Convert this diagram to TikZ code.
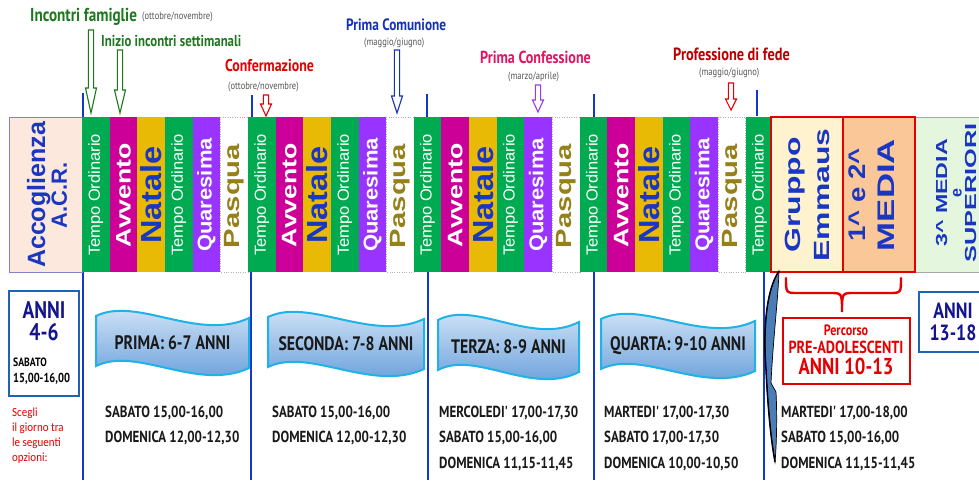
\documentclass[tikz,border=0pt]{standalone}
\usepackage{fontspec}
\setmainfont{Liberation Sans}
\newfontfamily\comic[FakeStretch=0.81]{PT Sans}
\newfontfamily\calib[FakeStretch=0.88]{Carlito}
\newfontfamily\arialf{Liberation Sans}
\definecolor{togreen}{RGB}{0,170,80}
\definecolor{avv}{RGB}{204,0,153}
\definecolor{nat}{RGB}{232,185,5}
\definecolor{qua}{RGB}{153,51,255}
\definecolor{pasq}{RGB}{150,128,25}
\definecolor{nblue}{RGB}{25,55,195}
\definecolor{lblue}{RGB}{20,55,200}
\definecolor{acc}{RGB}{252,232,220}
\definecolor{emm}{RGB}{255,242,206}
\definecolor{med}{RGB}{250,200,152}
\definecolor{supc}{RGB}{228,246,222}
\definecolor{hgreen}{RGB}{30,120,30}
\definecolor{hred}{RGB}{228,0,0}
\definecolor{hpink}{RGB}{228,20,100}
\definecolor{hdred}{RGB}{185,0,0}
\definecolor{hblue}{RGB}{20,50,180}
\definecolor{hpurple}{RGB}{150,60,240}
\definecolor{navy}{RGB}{20,20,140}
\definecolor{banfillA}{RGB}{222,236,250}
\definecolor{banfillB}{RGB}{90,150,215}
\definecolor{bancyan}{RGB}{30,178,230}
\definecolor{boxblue}{RGB}{30,100,180}
\definecolor{steel}{RGB}{75,125,185}
\definecolor{gtext}{RGB}{85,85,85}
\newcommand\harrow[5]{%
  \draw[harr, draw=#5] (#1-2.6,#2) -- (#1+2.6,#2) -- (#1+2.6,#3) -- (#1+5.5,#3) -- (#1,#4) -- (#1-5.5,#3) -- (#1-2.6,#3) -- cycle;}
\newcommand\colm[4]{%
  \fill[#3] (#2,117) rectangle ++(27.65,155);
  \node[coltext] (#1) at (#2+13.8,195) {#4};}
\newcommand\tTO{\arialf\fontsize{16}{16}\selectfont\color{white}\scalebox{1.03}[1]{Tempo Ordinario}}
\newcommand\tAvv{\bfseries\fontsize{21}{21}\selectfont\color{white}\scalebox{1.27}[1]{Avvento}}
\newcommand\tNat{\bfseries\fontsize{29}{29}\selectfont\color{nblue}\scalebox{1.12}[1]{Natale}}
\newcommand\tQua{\bfseries\fontsize{20}{20}\selectfont\color{white}\scalebox{1.1}[1]{Quaresima}}
\newcommand\tPas{\bfseries\fontsize{22}{22}\selectfont\color{pasq}\scalebox{1.33}[1]{Pasqua}}
\newcommand\banner[5]{%
  \begin{scope}[shift={(#2,#4)}, xscale=#3/150]
    \path[top color=banfillA, bottom color=banfillB, draw=bancyan, line width=2pt]
      (0,0) .. controls (40,-20) and (100,26) .. (150,2) -- (150,52)
      .. controls (100,76) and (40,30) .. (0,50) -- cycle;
    \node[bantext] (#1) at (75,27) {#5};
  \end{scope}}
\begin{document}
\begin{tikzpicture}[x=1pt,y=-1pt,
  hd/.style={anchor=base west, inner sep=0},
  sched/.style={anchor=base west, inner sep=0, font=\comic\bfseries\fontsize{16}{16}\selectfont, text=black!90},
  coltext/.style={rotate=90, inner sep=0},
  bantext/.style={inner sep=0, font=\comic\bfseries\fontsize{19.5}{19.5}\selectfont, text=black!90},
  vline/.style={lblue, line width=2.6pt},
  harr/.style={fill=white, line width=1.1pt, line join=miter},
  small/.style={anchor=base west, inner sep=0, font=\comic\fontsize{10.5}{10.5}\selectfont, text=gtext},
]
\useasboundingbox (0,0) rectangle (979,480);
\fill[white] (0,0) rectangle (979,480);

% ---------- headings ----------
\node[hd, font=\comic\bfseries\fontsize{18.7}{18.7}\selectfont, text=hgreen] (h1) at (30,21) {Incontri famiglie};
\node[small] (h1s) at (142,19) {(ottobre/novembre)};
\node[hd, font=\comic\bfseries\fontsize{15.8}{15.8}\selectfont, text=hgreen] (h2) at (101,46) {Inizio incontri settimanali};
\node[hd, font=\comic\bfseries\fontsize{17.1}{17.1}\selectfont, text=hred] (h3) at (225,71) {Confermazione};
\node[small] (h3s) at (228,89) {(ottobre/novembre)};
\node[hd, font=\comic\bfseries\fontsize{16.4}{16.4}\selectfont, text=hblue] (h4) at (346,30) {Prima Comunione};
\node[small] (h4s) at (364,45) {(maggio/giugno)};
\node[hd, font=\comic\bfseries\fontsize{17.4}{17.4}\selectfont, text=hpink] (h5) at (480,63) {Prima Confessione};
\node[small] (h5s) at (508,79) {(marzo/aprile)};
\node[hd, font=\comic\bfseries\fontsize{17.7}{17.7}\selectfont, text=hdred] (h6) at (673,60) {Professione di fede};
\node[small] (h6s) at (699,75) {(maggio/giugno)};

% ---------- hollow arrows ----------
\harrow{91}{30}{88}{113}{hgreen}
\harrow{120}{50}{90}{113}{hgreen}
\harrow{266}{95}{104}{116}{hred}
\harrow{397}{50}{96}{113}{hblue}
\harrow{538}{85}{100}{112}{hpurple}
\harrow{731}{83}{99}{110}{hred}

% ---------- blue year dividers ----------
\draw[vline] (83,93) -- (83,117);
\draw[vline] (252,95) -- (252,117);
\draw[vline] (427,94) -- (427,117);
\draw[vline] (594,94) -- (594,117);
\draw[vline] (757,90) -- (757,116);
\draw[vline] (83,272) -- (83,480);
\draw[vline] (251,272) -- (251,480);
\draw[vline] (428,272) -- (428,480);
\draw[vline] (594,272) -- (594,480);
\draw[vline] (764,272) -- (764,480);

% ---------- band ----------
\draw[fill=acc, draw=gray!60!blue!70] (9,117) rectangle (82,272);
\node[coltext, align=center, text=nblue, font=\bfseries] (acr) at (47,195)
  {{\fontsize{25}{27}\selectfont Accoglienza}\\{\fontsize{22}{24}\selectfont A.C.R.}};
\foreach \c in {0,1,2,3}{
  \pgfmathsetmacro{\x}{82+\c*165.9}
  \colm{to1-\c}{\x}{togreen}{\tTO}
  \colm{av-\c}{\x+27.65}{avv}{\tAvv}
  \colm{na-\c}{\x+55.3}{nat}{\tNat}
  \colm{to2-\c}{\x+82.95}{togreen}{\tTO}
  \colm{qu-\c}{\x+110.6}{qua}{\tQua}
  \draw[dotted, gray!60] (\x+138.25,117) rectangle ++(27.65,155);
  \node[coltext] (pa-\c) at (\x+152.05,196) {\tPas};
}
\colm{to-last}{745.6}{togreen}{\tTO}
\fill[emm] (771,117) rectangle (843,272);
\fill[med] (843,117) rectangle (915,272);
\draw[hred, line width=1.2pt] (843,117) -- (843,272);
\draw[hred, line width=2pt] (771,117) rectangle (915,272);
\fill[supc] (916,117) rectangle (985,272);
\draw[gray!70, line width=0.8pt] (916,117) -- (985,117) (916,272) -- (985,272);
\node[coltext, align=center, text=nblue, font=\bfseries\fontsize{22}{29}\selectfont] (emmaus) at (807,195)
  {\scalebox{1.45}[1]{Gruppo}\\\scalebox{1.45}[1]{Emmaus}};
\node[coltext, align=center, text=nblue, font=\bfseries\fontsize{24}{29}\selectfont] (media) at (872,195)
  {\scalebox{1.15}[1]{1\textasciicircum{} e 2\textasciicircum}\\\scalebox{1.45}[1]{MEDIA}};
\node[coltext, align=center, text=nblue, font=\bfseries\fontsize{16}{14.5}\selectfont] (sup) at (956,193)
  {\scalebox{1.45}[1]{3\textasciicircum{} MEDIA}\\e\\\scalebox{1.58}[1]{SUPERIORI}};

% ---------- lower part ----------
\draw[boxblue, line width=1.8pt] (9,291) rectangle (79,396);
\node[inner sep=0, anchor=base, font=\comic\bfseries\fontsize{24}{24}\selectfont, text=navy] (anni1) at (44,318) {ANNI};
\node[inner sep=0, anchor=base, font=\comic\bfseries\fontsize{24}{24}\selectfont, text=navy] (anni1b) at (44,340) {4-6};
\node[hd, font=\comic\bfseries\fontsize{12}{12}\selectfont] (sab0) at (13,366) {SABATO};
\node[hd, font=\comic\bfseries\fontsize{13}{13}\selectfont] (ora0) at (13,382) {15,00-16,00};
\node[hd, font=\calib\fontsize{12.5}{12.5}\selectfont, text=hred] (sc1) at (12,416) {Scegli};
\node[hd, font=\calib\fontsize{12.5}{12.5}\selectfont, text=hred] (sc2) at (12,431) {il giorno tra};
\node[hd, font=\calib\fontsize{12.5}{12.5}\selectfont, text=hred] (sc3) at (12,446) {le seguenti};
\node[hd, font=\calib\fontsize{12.5}{12.5}\selectfont, text=hred] (sc4) at (12,461) {opzioni:};

\banner{b1}{96}{153}{316}{PRIMA: 6-7 ANNI}
\banner{b2}{268}{156}{317}{SECONDA: 7-8 ANNI}
\banner{b3}{438}{141}{320}{TERZA: 8-9 ANNI}
\banner{b4}{601}{154}{319}{QUARTA: 9-10 ANNI}

\node[sched] (s11) at (105,417) {SABATO 15,00-16,00};
\node[sched] (s12) at (105,442) {DOMENICA 12,00-12,30};
\node[sched] (s21) at (272,417) {SABATO 15,00-16,00};
\node[sched] (s22) at (272,442) {DOMENICA 12,00-12,30};
\node[sched] (s31) at (439,417) {MERCOLEDI' 17,00-17,30};
\node[sched] (s32) at (439,442) {SABATO 15,00-16,00};
\node[sched] (s33) at (439,468) {DOMENICA 11,15-11,45};
\node[sched] (s41) at (604,417) {MARTEDI' 17,00-17,30};
\node[sched] (s42) at (604,442) {SABATO 17,00-17,30};
\node[sched] (s43) at (604,468) {DOMENICA 10,00-10,50};
\node[sched] (s51) at (781,417) {MARTEDI' 17,00-18,00};
\node[sched] (s52) at (781,442) {SABATO 15,00-16,00};
\node[sched] (s53) at (781,468) {DOMENICA 11,15-11,45};

% curved arrow
\path[fill=steel, draw=black, line width=0.7pt]
  (779,271) .. controls (766,290) and (763,330) .. (766,370)
  .. controls (768,410) and (771,440) .. (775,462)
  .. controls (777,440) and (777,410) .. (776,392) -- (771,383)
  .. controls (773,340) and (778,300) .. (779,271) -- cycle;
\draw[black, line width=1.5pt] (779,271) .. controls (766,290) and (763,330) .. (766,370)
  .. controls (768,410) and (771,440) .. (775,462);

% brace and pre-adolescenti box
\draw[hred, line width=2.4pt, line cap=round]
  (786,278) .. controls (786,293) .. (798,293) -- (830,293) .. controls (842,293) .. (842,312)
  .. controls (842,293) .. (854,293) -- (889,293) .. controls (901,293) .. (901,278);
\draw[hred, line width=2pt] (783,318) rectangle (910,384);
\node[inner sep=0, anchor=base, font=\comic\bfseries\fontsize{15}{15}\selectfont, text=hred] (perc) at (846,335) {Percorso};
\node[inner sep=0, anchor=base, font=\comic\bfseries\fontsize{17.5}{17.5}\selectfont, text=hred] (pread) at (846,353) {PRE-ADOLESCENTI};
\node[inner sep=0, anchor=base, font=\comic\bfseries\fontsize{23}{23}\selectfont, text=hred] (anni3) at (846,374) {ANNI 10-13};

\draw[boxblue, line width=1.8pt] (919,292) rectangle (985,352);
\node[inner sep=0, anchor=base, font=\comic\bfseries\fontsize{22}{22}\selectfont, text=navy] (anni2) at (953,318) {ANNI};
\node[inner sep=0, anchor=base, font=\comic\bfseries\fontsize{22}{22}\selectfont, text=navy] (anni2b) at (953,340) {13-18};
\end{tikzpicture}
\end{document}
